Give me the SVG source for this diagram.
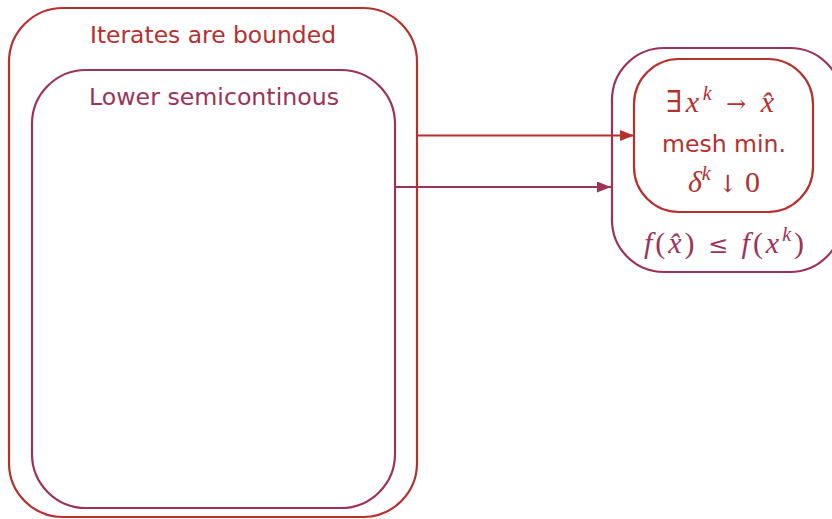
<svg xmlns="http://www.w3.org/2000/svg" width="832" height="519" viewBox="0 0 832 519">
  <style>
    .red { stroke: #b5302f; }
    .pur { stroke: #9b3358; }
    .box { fill: none; stroke-width: 2.2; }
    .lbl { font-family: "DejaVu Sans", "Liberation Sans", sans-serif; font-size: 23px; text-anchor: middle; }
    .math { font-family: "Liberation Serif", "DejaVu Serif", serif; font-size: 30px; text-anchor: middle; }
    .op { font-family: "DejaVu Serif", serif; font-size: 24px; }
    .it { font-style: italic; }
    .tr { fill: #b5302f; }
    .tp { fill: #9b3358; }
    .conn { fill: none; stroke-width: 2.2; }
  </style>
  <defs>
    <marker id="ahR" markerWidth="14" markerHeight="11" refX="14" refY="5.5" orient="auto" markerUnits="userSpaceOnUse">
      <path d="M0,0 L14,5.5 L0,11 z" fill="#b5302f"/>
    </marker>
    <marker id="ahP" markerWidth="14" markerHeight="11" refX="14" refY="5.5" orient="auto" markerUnits="userSpaceOnUse">
      <path d="M0,0 L14,5.5 L0,11 z" fill="#9b3358"/>
    </marker>
  </defs>

  <g id="bounded">
    <rect class="box red" x="9" y="8" width="408" height="509" rx="54" ry="54"/>
    <text class="lbl tr" x="213" y="43" textLength="246" lengthAdjust="spacingAndGlyphs">Iterates are bounded</text>
  </g>

  <g id="lsc">
    <rect class="box pur" x="32" y="70" width="363" height="438" rx="54" ry="54"/>
    <text class="lbl tp" x="214" y="105" textLength="250" lengthAdjust="spacingAndGlyphs">Lower semicontinous</text>
  </g>

  <g id="result">
    <rect class="box pur" x="612" y="48" width="230" height="224" rx="52" ry="52"/>
    <text class="math tp" x="724" y="253" textLength="160" lengthAdjust="spacing"><tspan class="it">f</tspan>(<tspan class="it">x̂</tspan>) <tspan class="op">≤</tspan> <tspan class="it">f</tspan>(<tspan class="it">x</tspan><tspan class="it" font-size="20" dy="-12">k</tspan><tspan dy="12">)</tspan></text>
  </g>

  <g id="meshmin">
    <rect class="box red" x="634" y="59" width="179" height="153" rx="45" ry="45"/>
    <text class="math tr" x="720" y="112" textLength="108" lengthAdjust="spacing">∃<tspan class="it">x</tspan><tspan class="it" font-size="20" dy="-12">k</tspan><tspan dy="12"> </tspan><tspan class="op">→</tspan> <tspan class="it">x̂</tspan></text>
    <text class="lbl tr" x="724" y="152" textLength="124" lengthAdjust="spacingAndGlyphs">mesh min.</text>
    <text class="math tr" x="724" y="192" textLength="72" lengthAdjust="spacing"><tspan class="it">δ</tspan><tspan class="it" font-size="20" dy="-12">k</tspan><tspan dy="12"> </tspan><tspan class="op">↓</tspan> 0</text>
  </g>

  <g id="connectors">
    <line class="conn red" x1="418" y1="135.5" x2="634" y2="135.5" marker-end="url(#ahR)"/>
    <line class="conn pur" x1="395" y1="187" x2="611" y2="187" marker-end="url(#ahP)"/>
  </g>
</svg>
